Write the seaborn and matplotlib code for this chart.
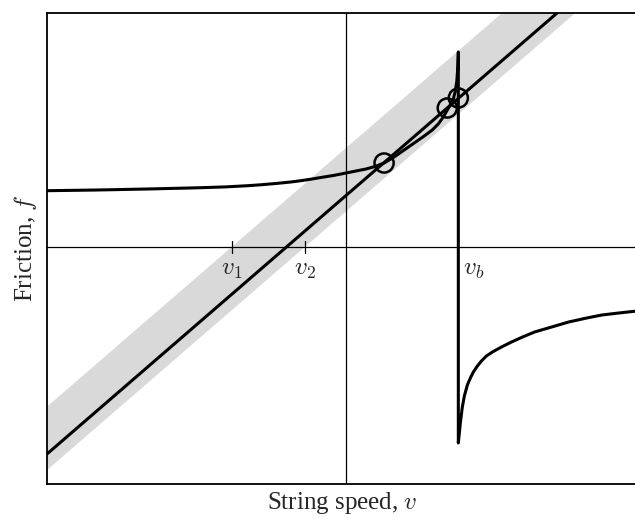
import numpy as np
import pandas as pd
import matplotlib
matplotlib.use("Agg")
import matplotlib.pyplot as plt
import seaborn as sns

# ---- data (axis units: v horizontal, f vertical) ----
v_left = [-2.98, -2.48, -1.98, -1.48, -1.20, -0.98, -0.85, -0.70, -0.55, -0.45, -0.35, -0.25,
          -0.12, 0.00, 0.10, 0.20, 0.29, 0.38,
          0.48, 0.58, 0.68, 0.78, 0.86, 0.92, 0.97, 1.01, 1.04, 1.07, 1.09, 1.105, 1.115, 1.12]
f_left = [0.563, 0.570, 0.580, 0.592, 0.601, 0.613, 0.622, 0.635, 0.650, 0.663, 0.678, 0.695,
          0.716, 0.74, 0.76, 0.78, 0.805, 0.84,
          0.90, 0.97, 1.04, 1.11, 1.17, 1.23, 1.30, 1.37, 1.42, 1.48, 1.56, 1.66, 1.80, 1.95]
v_jump = [1.12, 1.12]
f_jump = [1.95, -1.96]
v_right = [1.12, 1.14, 1.16, 1.18, 1.21, 1.24, 1.27, 1.31, 1.35, 1.40, 1.46, 1.55, 1.65,
           1.76, 1.88, 2.05, 2.22, 2.40, 2.55, 2.72, 2.90]
f_right = [-1.96, -1.76, -1.60, -1.49, -1.38, -1.31, -1.25, -1.19, -1.14, -1.09, -1.05,
           -1.00, -0.95, -0.90, -0.85, -0.80, -0.75, -0.71, -0.68, -0.66, -0.64]

line_v = [-2.98, 2.90]          # bow line end points
line_f = [-2.07, 3.03]
slope = 0.868                   # slope of the bow line / band edges
v1, v2, vb = -1.14, -0.41, 1.12
tick_labels = ["$v_1$", "$v_2$", "$v_b$"]

circle_v = [0.38, 1.01, 1.12]
circle_f = [0.84, 1.39, 1.49]

xlim = (-2.98, 2.90)
ylim = (-2.37, 2.34)

# ---- style ----
sns.set_style("white")
plt.rcParams["font.family"] = ["Liberation Serif", "DejaVu Serif"]
plt.rcParams["mathtext.fontset"] = "cm"

fig = plt.figure(figsize=(6.35, 5.18), dpi=100)
ax = fig.add_axes([47/635, (518-484)/518, 1 - 47/635 + 0.003, (484-13)/518])

# grey band between lines through v1 and v2
vv = np.array(xlim)
ax.fill_between(vv, slope*(vv - v2), slope*(vv - v1), color="#d9d9d9", lw=0, zorder=1)

# axes lines
ax.axvline(0, color="black", lw=0.9, zorder=2)
ax.axhline(0, color="black", lw=0.9, zorder=2)

# bow line
sns.lineplot(x=line_v, y=line_f, ax=ax, color="black", lw=2.2, sort=False, zorder=3)

# friction curve
fv = v_left + v_jump + v_right
ff = f_left + f_jump + f_right
df = pd.DataFrame({"v": fv, "f": ff})
sns.lineplot(data=df, x="v", y="f", ax=ax, color="black", lw=2.2, sort=False,
             estimator=None, zorder=4)

# circles
sns.scatterplot(x=circle_v, y=circle_f, ax=ax, s=190, facecolor="none",
                edgecolor="black", linewidth=1.8, zorder=5)

# ticks at v1, v2
for v in (v1, v2):
    ax.plot([v, v], [-0.06, 0.06], color="black", lw=0.9, zorder=2)
ax.text(v1, -0.12, tick_labels[0], ha="center", va="top", fontsize=18)
ax.text(v2, -0.12, tick_labels[1], ha="center", va="top", fontsize=18)
ax.text(vb + 0.05, -0.12, tick_labels[2], ha="left", va="top", fontsize=18)

ax.set_xlim(*xlim)
ax.set_ylim(*ylim)
ax.set_xticks([])
ax.set_yticks([])
ax.set_xlabel("String speed, $v$", fontsize=18, labelpad=4)
ax.set_ylabel("Friction, $f$", fontsize=18, labelpad=6)
for s in ["left", "bottom", "top"]:
    ax.spines[s].set_color("black")
    ax.spines[s].set_linewidth(1.3)
ax.spines["right"].set_visible(False)

fig.savefig("out.png", dpi=100)
